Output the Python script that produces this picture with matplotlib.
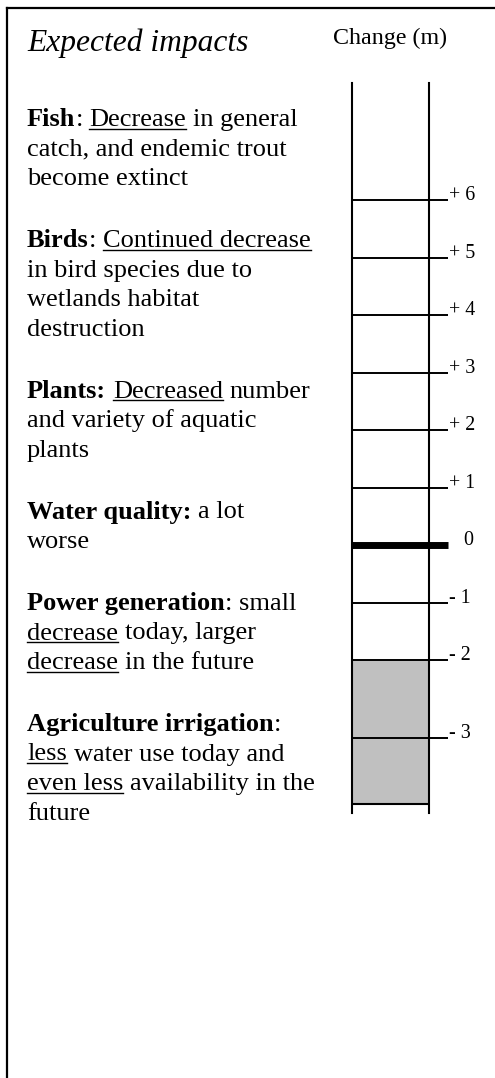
import matplotlib
matplotlib.use("Agg")
import matplotlib.pyplot as plt
from matplotlib.lines import Line2D

plt.rcParams['font.family'] = ['Liberation Serif', 'DejaVu Serif']

# ruler data (metres of lake level change)
levels = [6, 5, 4, 3, 2, 1, 0, -1, -2, -3]
level_labels = ["+ 6", "+ 5", "+ 4", "+ 3", "+ 2", "+ 1", "   0", "- 1", "- 2", "- 3"]
# where each mark is drawn on the scale (the -3 mark sits lower than evenly spaced)
mark_pos = [6, 5, 4, 3, 2, 1, 0, -1, -2, -3.35]
shade_top, shade_bottom = -2, -4.5
ruler_top, ruler_bottom = 8.03, -4.66

title = "Expected impacts"
axis_title = "Change (m)"

# text paragraphs: each line is a list of (text, style) b=bold n=normal u=underlined
paragraphs = [
    [[("Fish", "b"), (": ", "n"), ("Decrease", "u"), (" in general", "n")],
     [("catch, and endemic trout", "n")],
     [("become extinct", "n")]],
    [[("Birds", "b"), (": ", "n"), ("Continued decrease", "u")],
     [("in bird species due to", "n")],
     [("wetlands habitat", "n")],
     [("destruction", "n")]],
    [[("Plants:", "b"), (" ", "n"), ("Decreased", "u"), (" number", "n")],
     [("and variety of aquatic", "n")],
     [("plants", "n")]],
    [[("Water quality:", "b"), (" a lot", "n")],
     [("worse", "n")]],
    [[("Power generation", "b"), (": small", "n")],
     [("decrease", "u"), (" today, larger", "n")],
     [("decrease", "u"), (" in the future", "n")]],
    [[("Agriculture irrigation", "b"), (":", "n")],
     [("less", "u"), (" water use today and", "n")],
     [("even less", "u"), (" availability in the", "n")],
     [("future", "n")]],
]

W, H = 495, 1078
BODY = 19
fig = plt.figure(figsize=(W / 100, H / 100), dpi=100)
renderer = fig.canvas.get_renderer()


def fx(x):
    return x / W


def fy(y):
    return 1 - y / H


# frame (top and left edges only)
fig.add_artist(Line2D([fx(6.5), 1], [fy(8), fy(8)], lw=1.6, color='black',
                      transform=fig.transFigure))
fig.add_artist(Line2D([fx(6.5), fx(6.5)], [fy(8), 0], lw=1.6, color='black',
                      transform=fig.transFigure))

fig.text(fx(27), fy(51), title, fontsize=22.7, style='italic', va='baseline', ha='left')
fig.text(fx(390), fy(44), axis_title, fontsize=17.3, va='baseline', ha='center')


def space_width(weight):
    a = fig.text(0, 0, "n n", fontsize=BODY, fontweight=weight)
    b = fig.text(0, 0, "nn", fontsize=BODY, fontweight=weight)
    w = a.get_window_extent(renderer).width - b.get_window_extent(renderer).width
    a.remove()
    b.remove()
    return w


sp = {'bold': space_width('bold'), 'normal': space_width('normal')}


def draw_line(x, y, segments):
    for txt, style in segments:
        weight = 'bold' if style == 'b' else 'normal'
        core = txt.strip(' ')
        if not core:
            x += len(txt) * sp[weight]
            continue
        lead = len(txt) - len(txt.lstrip(' '))
        trail = len(txt) - len(txt.rstrip(' '))
        x += lead * sp[weight]
        t = fig.text(fx(x), fy(y), core, fontsize=BODY, fontweight=weight,
                     va='baseline', ha='left')
        bb = t.get_window_extent(renderer)
        if style == 'u':
            fig.add_artist(Line2D([fx(bb.x0), fx(bb.x1)], [fy(y + 2.5)] * 2,
                                  lw=1.0, color='black', transform=fig.transFigure))
        x = bb.x1 + trail * sp[weight]


y = 126
for para in paragraphs:
    for line in para:
        draw_line(27, y, line)
        y += 29.5
    y += 62 - 29.5

# ruler
zero_px, px_per_m = 545, 57.5
top_px = zero_px - ruler_top * px_per_m
bot_px = zero_px - ruler_bottom * px_per_m
ax = fig.add_axes([fx(352), fy(bot_px), (429 - 352) / W, (bot_px - top_px) / H])
ax.set_xlim(0, 1)
ax.set_ylim(ruler_bottom, ruler_top)
ax.patch.set_alpha(0)
for s in ['top', 'bottom']:
    ax.spines[s].set_visible(False)
for s in ['left', 'right']:
    ax.spines[s].set_linewidth(1.5)
ax.set_xticks([])
ax.set_yticks([])

tick_end = 1 + (448 - 429) / 77
ax.axhspan(shade_bottom, shade_top, xmin=0, xmax=1, color='#c0c0c0', zorder=0, lw=0)
ax.hlines(shade_bottom, 0, 1, color='black', lw=1.5)
widths = [5 if v == 0 else 1.4 for v in levels]
ax.hlines(mark_pos, 0, tick_end, colors='black', linewidths=widths, clip_on=False)
for p, lab in zip(mark_pos, level_labels):
    ax.text(1 + (449 - 429) / 77, p, lab, fontsize=14.4, va='baseline', ha='left')

fig.savefig("out.png", dpi=100)
